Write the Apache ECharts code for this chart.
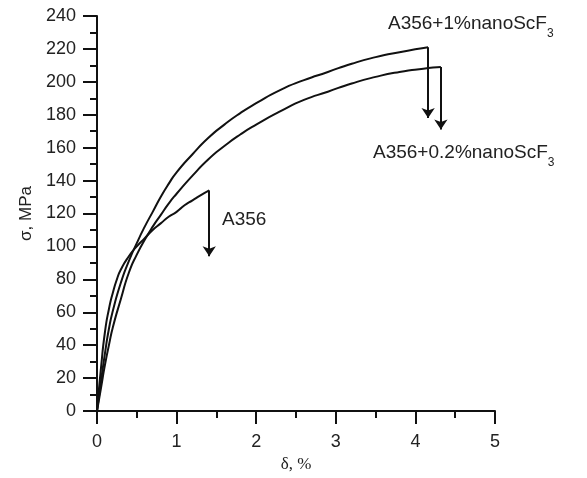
<!DOCTYPE html>
<html>
<head>
<meta charset="UTF-8">
<title>A356 stress-strain</title>
<style>
html, body { margin: 0; padding: 0; background: #fff; }
#main { width: 587px; height: 478px; }
</style>
</head>
<body>
<div id="main"></div>
<script src="https://cdn.jsdelivr.net/npm/echarts@6/dist/echarts.min.js"></script>
<script>
// curves: [delta %, sigma MPa]
var a356 = [[0, 0], [0.05, 26], [0.1, 48], [0.15, 62], [0.2, 72], [0.25, 80], [0.3, 86],
  [0.4, 94], [0.5, 100], [0.6, 105], [0.7, 110], [0.8, 114], [0.9, 118], [1.0, 121],
  [1.1, 125], [1.2, 128], [1.3, 131], [1.41, 134]];
var a356Sc1 = [[0, 0], [0.05, 18], [0.1, 35], [0.15, 50], [0.2, 61], [0.3, 78], [0.4, 91],
  [0.5, 102], [0.6, 112], [0.7, 121], [0.8, 130], [0.9, 138], [1.0, 145], [1.2, 156],
  [1.4, 166], [1.6, 174], [1.8, 181], [2.0, 187], [2.3, 195], [2.6, 201], [2.9, 206],
  [3.2, 211], [3.5, 215], [3.8, 218], [4.16, 221]];
var a356Sc02 = [[0, 0], [0.05, 14], [0.1, 28], [0.15, 40], [0.2, 51], [0.3, 68], [0.4, 84],
  [0.5, 95], [0.6, 104], [0.7, 112], [0.8, 119], [0.9, 126], [1.0, 132], [1.2, 143],
  [1.4, 153], [1.6, 161], [1.8, 168], [2.0, 174], [2.3, 182], [2.6, 189], [2.9, 194],
  [3.2, 199], [3.5, 203], [3.8, 206], [4.1, 208], [4.32, 209]];

// fracture drops (arrows)
var dropX = [1.41, 4.16, 4.32];
var dropTop = [134, 221, 209];
var dropBottom = [94, 178, 171];

var xTicks = [0, 1, 2, 3, 4, 5];
var yTicks = [0, 20, 40, 60, 80, 100, 120, 140, 160, 180, 200, 220, 240];

var ink = '#111';

function arrow(i) {
  return {
    data: [[{ coord: [dropX[i], dropTop[i]] }, { coord: [dropX[i], dropBottom[i]] }]],
    symbol: ['none', 'arrow'],
    symbolSize: 10,
    silent: true,
    label: { show: false },
    lineStyle: { color: ink, width: 2, type: 'solid' }
  };
}

function curve(name, data, i) {
  return {
    name: name,
    type: 'line',
    data: data,
    showSymbol: false,
    smooth: 0.6,
    lineStyle: { color: ink, width: 2 },
    itemStyle: { color: ink },
    markLine: arrow(i),
    animation: false
  };
}

var myChart = echarts.init(document.getElementById('main'));

var option = {
  animation: false,
  grid: { left: 97, right: 92, top: 16, bottom: 63, containLabel: false },
  xAxis: {
    type: 'value',
    min: xTicks[0],
    max: xTicks[xTicks.length - 1],
    interval: 1,
    name: 'δ, %',
    nameLocation: 'middle',
    nameGap: 45,
    nameTextStyle: { fontFamily: 'Liberation Serif', fontSize: 17, color: '#222' },
    axisLine: { onZero: false, lineStyle: { color: ink, width: 2 } },
    axisTick: { inside: false, length: 13, lineStyle: { color: ink, width: 2 } },
    minorTick: { show: true, splitNumber: 2, length: 7, lineStyle: { color: ink, width: 2 } },
    splitLine: { show: false },
    axisLabel: { margin: 22, fontFamily: 'Liberation Sans', fontSize: 18, color: '#222' }
  },
  yAxis: {
    type: 'value',
    min: yTicks[0],
    max: yTicks[yTicks.length - 1],
    interval: 20,
    name: 'σ, MPa',
    nameLocation: 'middle',
    nameRotate: 90,
    nameGap: 44,
    nameTextStyle: { fontFamily: 'Liberation Sans', fontSize: 17, color: '#222' },
    axisLine: { show: true, onZero: false, lineStyle: { color: ink, width: 2 } },
    axisTick: { show: true, inside: false, length: 14, lineStyle: { color: ink, width: 2 } },
    minorTick: { show: true, splitNumber: 2, length: 7, lineStyle: { color: ink, width: 2 } },
    splitLine: { show: false },
    axisLabel: { margin: 21, fontFamily: 'Liberation Sans', fontSize: 18, color: '#222' }
  },
  series: [
    curve('A356', a356, 0),
    curve('A356+1%nanoScF3', a356Sc1, 1),
    curve('A356+0.2%nanoScF3', a356Sc02, 2)
  ],
  graphic: [
    {
      type: 'text', x: 388, y: 14, silent: true,
      style: {
        text: '{a|A356+1%nanoScF}{s|3}',
        rich: {
          a: { fontFamily: 'Liberation Sans', fontSize: 19, lineHeight: 26, verticalAlign: 'top', fill: '#222' },
          s: { fontFamily: 'Liberation Sans', fontSize: 12, lineHeight: 12, verticalAlign: 'bottom', fill: '#222' }
        }
      }
    },
    {
      type: 'text', x: 373, y: 143, silent: true,
      style: {
        text: '{a|A356+0.2%nanoScF}{s|3}',
        rich: {
          a: { fontFamily: 'Liberation Sans', fontSize: 19, lineHeight: 26, verticalAlign: 'top', fill: '#222' },
          s: { fontFamily: 'Liberation Sans', fontSize: 12, lineHeight: 12, verticalAlign: 'bottom', fill: '#222' }
        }
      }
    },
    {
      type: 'text', x: 222, y: 220, silent: true,
      style: {
        text: 'A356',
        fontFamily: 'Liberation Sans', fontSize: 19, fill: '#222',
        align: 'left', verticalAlign: 'middle'
      }
    }
  ]
};

myChart.setOption(option);
</script>
</body>
</html>
